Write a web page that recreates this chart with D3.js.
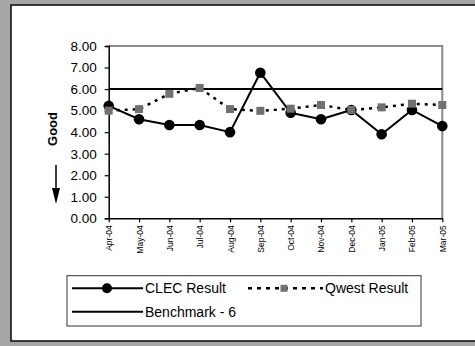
<!DOCTYPE html>
<html><head><meta charset="utf-8">
<script src="https://cdn.jsdelivr.net/npm/d3@7"></script>
<style>
html,body{margin:0;padding:0;background:#a6a6a6;}
svg{display:block;font-family:"Liberation Sans",Arial,sans-serif;}
</style></head>
<body>
<svg id="c" width="475" height="346"></svg>
<script>
const months = ["Apr-04","May-04","Jun-04","Jul-04","Aug-04","Sep-04","Oct-04","Nov-04","Dec-04","Jan-05","Feb-05","Mar-05"];
const clecResult = [5.22,4.60,4.33,4.33,4.00,6.76,4.90,4.60,5.03,3.90,5.03,4.28];
const qwestResult = [5.00,5.07,5.78,6.05,5.07,4.99,5.09,5.26,5.03,5.15,5.32,5.26];
const benchmark = 6;
const yTicks = [0,1,2,3,4,5,6,7,8];
const seriesNames = ["CLEC Result","Qwest Result","Benchmark - 6"];
const yTitle = "Good";

const svg = d3.select("#c");
// panel
svg.append("rect").attr("x",11).attr("y",5).attr("width",480).attr("height",336)
  .attr("fill","#fff").attr("stroke","#111").attr("stroke-width",1.6);

const L=108.7,R=442.3,T=46,B=218.3;
const x = d3.scalePoint().domain(months).range([L,R]);
const y = d3.scaleLinear().domain([0,8]).range([B,T]);

// plot frame (top/right gray)
svg.append("path").attr("d",`M${L},${T}H${R}V${B}`).attr("fill","none")
  .attr("stroke","#8a8a8a").attr("stroke-width",2);

// y axis
const ya = svg.append("g").attr("transform",`translate(${L},0)`)
  .call(d3.axisLeft(y).tickValues(yTicks).tickSize(4).tickPadding(8).tickFormat(d3.format(".2f")));
ya.select(".domain").attr("stroke","#000").attr("stroke-width",1.5);
ya.selectAll(".tick line").attr("stroke","#000").attr("stroke-width",1.2);
ya.selectAll(".tick text").attr("font-size","13.5px").attr("fill","#000")
  .attr("font-family","'Liberation Sans',Arial,sans-serif");

// x axis
const xa = svg.append("g").attr("transform",`translate(0,${B})`)
  .call(d3.axisBottom(x).tickSize(4).tickSizeOuter(0));
xa.select(".domain").attr("stroke","#000").attr("stroke-width",1.5);
xa.selectAll(".tick line").attr("stroke","#000").attr("stroke-width",1.2);
xa.selectAll(".tick text")
  .attr("font-size","8.5px").attr("fill","#000")
  .attr("font-family","'Liberation Sans',Arial,sans-serif")
  .attr("text-anchor","end")
  .attr("y",0).attr("dy",0)
  .attr("transform","translate(3,7) rotate(-90)");

// benchmark
svg.append("line").attr("x1",L).attr("x2",R).attr("y1",y(benchmark)).attr("y2",y(benchmark))
  .attr("stroke","#000").attr("stroke-width",2);

// CLEC
const lineGen = d3.line().x((d,i)=>x(months[i])).y(d=>y(d));
svg.append("path").datum(clecResult).attr("d",lineGen).attr("fill","none")
  .attr("stroke","#000").attr("stroke-width",2);
svg.selectAll(".clec").data(clecResult).join("circle")
  .attr("cx",(d,i)=>x(months[i])).attr("cy",d=>y(d)).attr("r",5.3).attr("fill","#000");

// Qwest
svg.append("path").datum(qwestResult).attr("d",lineGen).attr("fill","none")
  .attr("stroke","#000").attr("stroke-width",2.5).attr("stroke-dasharray","3,5");
const sq=8;
svg.selectAll(".qw").data(qwestResult).join("rect")
  .attr("x",(d,i)=>x(months[i])-sq/2).attr("y",d=>y(d)-sq/2)
  .attr("width",sq).attr("height",sq).attr("fill","#707070");

// y title + arrow
svg.append("text").attr("transform","translate(57,129) rotate(-90)")
  .attr("text-anchor","middle").attr("font-size","13px").attr("font-weight","bold").text(yTitle);
svg.append("line").attr("x1",56).attr("x2",56).attr("y1",165).attr("y2",192)
  .attr("stroke","#000").attr("stroke-width",1.5);
svg.append("path").attr("d","M52,188 L60,188 L56,204 Z").attr("fill","#000");

// legend
const lg = svg.append("g");
lg.append("rect").attr("x",67).attr("y",275.7).attr("width",354).attr("height",50.3)
  .attr("fill","#fff").attr("stroke","#333").attr("stroke-width",1);
const r1=288.3, r2=311.7;
lg.append("line").attr("x1",72).attr("x2",143).attr("y1",r1).attr("y2",r1).attr("stroke","#000").attr("stroke-width",2);
lg.append("circle").attr("cx",107).attr("cy",r1).attr("r",5).attr("fill","#000");
lg.append("text").attr("x",145).attr("y",r1+5).attr("font-size","14px").text(seriesNames[0]);
lg.append("line").attr("x1",248).attr("x2",323).attr("y1",r1).attr("y2",r1).attr("stroke","#000")
  .attr("stroke-width",2.5).attr("stroke-dasharray","4,5");
lg.append("rect").attr("x",284-3.5).attr("y",r1-3.5).attr("width",7).attr("height",7).attr("fill","#707070");
lg.append("text").attr("x",325).attr("y",r1+5).attr("font-size","14px").text(seriesNames[1]);
lg.append("line").attr("x1",72).attr("x2",143).attr("y1",r2).attr("y2",r2).attr("stroke","#000").attr("stroke-width",2);
lg.append("text").attr("x",145).attr("y",r2+5).attr("font-size","14px").text(seriesNames[2]);
</script>
</body></html>
